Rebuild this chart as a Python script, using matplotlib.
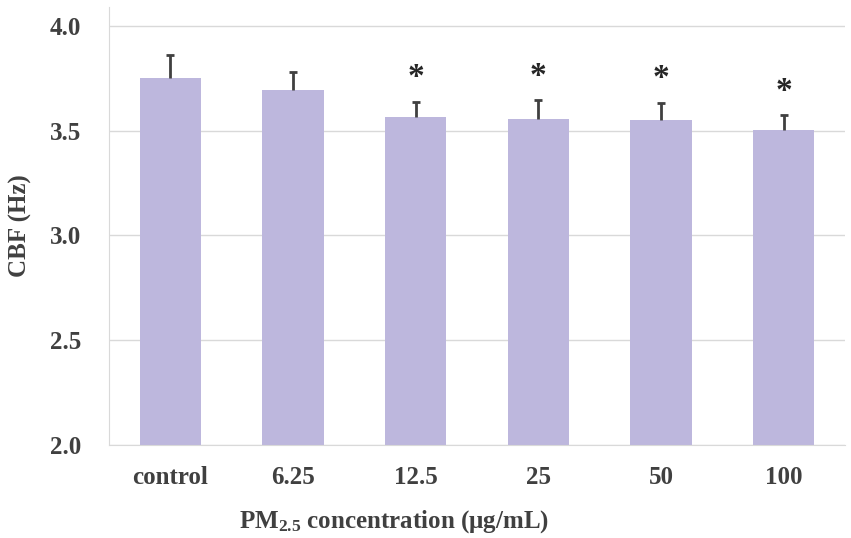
import matplotlib
matplotlib.use("Agg")
from matplotlib import pyplot as plt

categories = ["control", "6.25", "12.5", "25", "50", "100"]
cbf_mean = [3.752, 3.695, 3.567, 3.556, 3.550, 3.505]
cbf_err = [0.110, 0.085, 0.072, 0.088, 0.084, 0.070]
significant = [False, False, True, True, True, True]

plt.rcParams['font.family'] = ['Liberation Serif', 'DejaVu Serif']
plt.rcParams['font.weight'] = 'bold'
plt.rcParams['mathtext.fontset'] = 'custom'
plt.rcParams['mathtext.default'] = 'bf'
plt.rcParams['mathtext.bf'] = 'Liberation Serif:bold'
plt.rcParams['mathtext.rm'] = 'Liberation Serif:bold'

text_color = '#404040'
grid_color = '#d9d9d9'

fig = plt.figure(figsize=(8.51, 5.38), dpi=100)
ax = fig.add_axes([109 / 851, 1 - 445 / 538, 736 / 851, 438 / 538])

x = list(range(len(categories)))
ax.bar(x, cbf_mean, width=0.5, color='#bdb7dd', zorder=2)
# upper-only error bars: hide the cap drawn at the bar top
_, caps, _ = ax.errorbar(x, cbf_mean, yerr=[[0] * len(x), cbf_err], fmt='none',
                         ecolor='#404040', elinewidth=2, capsize=3, capthick=2,
                         zorder=3)
caps[0].set_visible(False)

for i, sig in enumerate(significant):
    if sig:
        ax.annotate('*', (x[i], cbf_mean[i] + cbf_err[i]), xytext=(0, 6),
                    textcoords='offset points', ha='center', va='bottom',
                    fontsize=24, fontweight='bold', color='#262626')

ax.set_xlim(-0.5, len(categories) - 0.5)
ax.set_ylim(2.0, 4.09)
ax.set_yticks([2.0, 2.5, 3.0, 3.5, 4.0])
ax.set_yticklabels(['2.0', '2.5', '3.0', '3.5', '4.0'])
ax.set_xticks(x)
ax.set_xticklabels(categories)
ax.tick_params(axis='both', length=0, labelsize=18, colors=text_color)
ax.tick_params(axis='y', pad=20)
ax.tick_params(axis='x', pad=15)
ax.yaxis.grid(True, color=grid_color, linewidth=1, zorder=0)
ax.set_axisbelow(True)

for side in ['top', 'right']:
    ax.spines[side].set_visible(False)
ax.spines['left'].set_color(grid_color)
ax.spines['bottom'].set_color(grid_color)

ax.set_ylabel('CBF (Hz)', fontsize=18, fontweight='bold', color=text_color, labelpad=13)
ax.set_xlabel('PM$_{2.5}$ concentration (μg/mL)', fontsize=18, fontweight='bold',
              color=text_color)
ax.xaxis.set_label_coords(0.387, -0.144)

fig.savefig('out.png', dpi=100)
